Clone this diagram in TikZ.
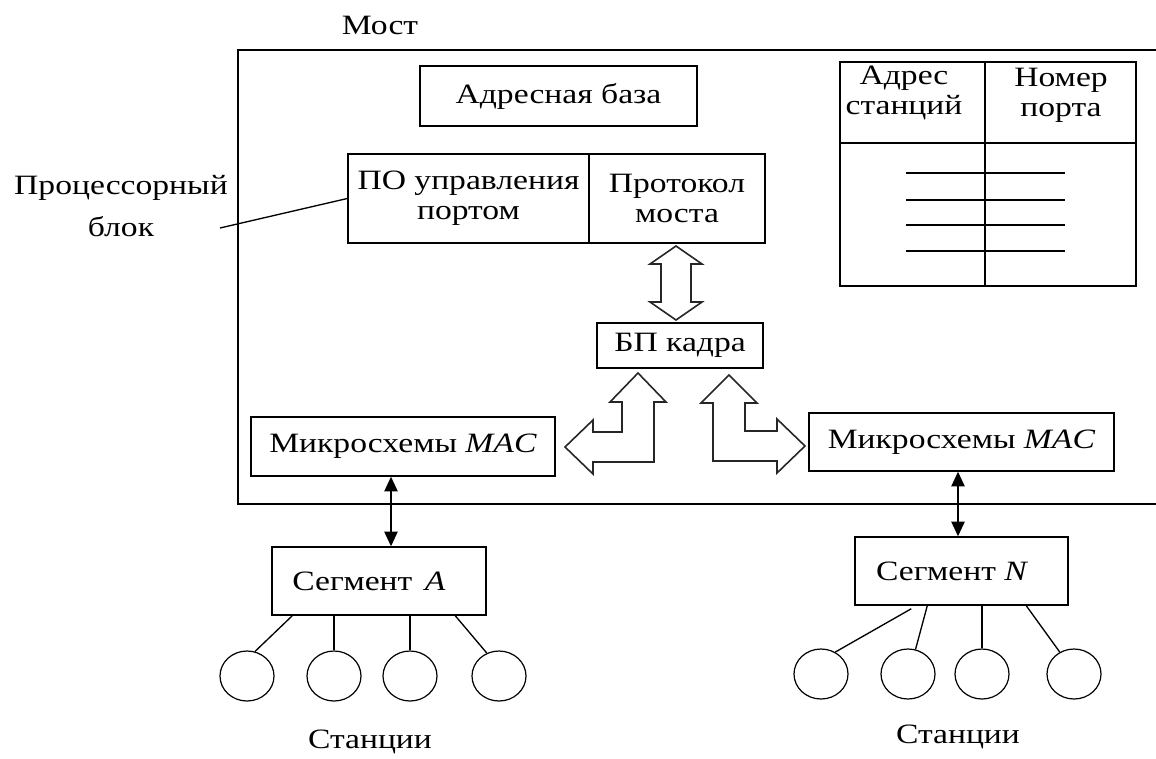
\documentclass[tikz,border=0pt]{standalone}
\usepackage{fontspec}
\setmainfont{Liberation Serif}[FakeStretch=1.2]
\usetikzlibrary{fit,calc,shapes.geometric,arrows.meta}

\tikzset{
  box/.style={draw, line width=1.1pt, inner sep=0pt, align=center},
  sz/.style 2 args={minimum width=#1*0.75pt, minimum height=#2*0.75pt},
  txt/.style={inner sep=0pt, align=center},
  wire/.style={line width=1pt},
  rule/.style={line width=1.1pt},
  station/.style={draw, ellipse, line width=0.9pt, minimum width=40.5pt,
                  minimum height=37.5pt, inner sep=0pt},
  link/.style={line width=1.1pt,
               {Triangle[length=11pt,width=10pt]}-{Triangle[length=11pt,width=10pt]}},
  fat/.style={draw=black!85, line width=1.2pt, fill=white, line join=miter},
}

\begin{document}
\begin{tikzpicture}[x=0.75pt, y=-0.75pt, font=\fontsize{21}{22.5}\selectfont]
\useasboundingbox (0,0) rectangle (1156,758);

% bridge frame, open to the right edge
\node[box, fit={(238,50) (1175,504)}] (bridge) {};
\node[txt] (title) at (380,25) {Мост};

% processor block
\node[box, sz={277}{60}] (addr) at (558.5,96) {Адресная база};
\node[box, sz={241}{89}] (ctl) at (468.5,198.5) {ПО управления\\портом};
\node[box, sz={176}{89}] (proto) at (677,198.5) {Протокол\\моста};
\node[box, sz={166}{45}] (buf) at (680,345.5) {БП кадра};

% MAC chips
\node[box, sz={304}{59}] (macA) at (403,446.5) {Микросхемы \textit{MAC}};
\node[box, sz={305}{58}] (macN) at (961.5,442) {Микросхемы \textit{MAC}};

% segments
\node[box, sz={214}{68}] (segA) at (379,581) {Сегмент\hspace{0.45em}\textit{A}\kern15pt};
\node[box, sz={213}{68}] (segN) at (961.5,571) {Сегмент \textit{N}\kern14pt};

% address table
\node[box, sz={296}{224}] (table) at (988,174) {};
\draw[rule] (985,62) -- (985,286);
\draw[rule] (840,143) -- (1136,143);
\node[txt] (colA) at (904,93) {Адрес\\станций};
\node[txt] (colB) at (1061,95) {Номер\\порта};
\foreach \y in {173,200,225,251}
  \draw[rule] (906,\y) -- (1065,\y);

% processor block label
\node[txt] (cpu) at (121,206) {Процессорный\\[9pt]блок};
\coordinate (leadEnd) at (220,228);
\draw[wire] (leadEnd) -- (ctl.west);

% hollow block arrows
\draw[fat] (676,246) -- (702,264) -- (691,264) -- (691,302) -- (702,302)
  -- (676,320) -- (650,302) -- (661,302) -- (661,264) -- (650,264) -- cycle;
\draw[fat] (638,373) -- (666,402) -- (654,402) -- (654,462) -- (593,462)
  -- (593,474) -- (565,447) -- (593,420) -- (593,432) -- (622,432)
  -- (622,402) -- (610,402) -- cycle;
\draw[fat] (729,375) -- (757,403) -- (745,403) -- (745,431) -- (777,431)
  -- (777,419) -- (805,446) -- (777,473) -- (777,461) -- (713,461)
  -- (713,403) -- (701,403) -- cycle;

% MAC to segment links
\coordinate (xA) at (391,0);
\draw[link] (macA.south -| xA) -- (segA.north -| xA);
\coordinate (xN) at (958,0);
\draw[link] (macN.south -| xN) -- (segN.north -| xN);

% stations of segment A
\foreach \i/\x in {1/247,2/334,3/410,4/499}
  \node[station] (sa\i) at (\x,676) {};
\draw[wire] ($(segA.south west)+(21,0)$) -- (sa1.72);
\draw[wire] (sa2.north |- segA.south) -- (sa2.north);
\draw[wire] (sa3.north |- segA.south) -- (sa3.north);
\draw[wire] ($(segA.south west)+(184,0)$) -- (sa4.118);
\node[txt] (stA) at (370,742) {Станции};

% stations of segment N
\foreach \i/\x in {1/821,2/908,3/982,4/1074}
  \node[station] (sn\i) at (\x,674) {};
\draw[wire] ($(segN.south west)+(57,3)$) -- (sn1.57);
\draw[wire] ($(segN.south west)+(73,0)$) -- (sn2.73);
\draw[wire] (sn3.north |- segN.south) -- (sn3.north);
\draw[wire] ($(segN.south west)+(172,0)$) -- (sn4.123);
\node[txt] (stN) at (958,737) {Станции};
\end{tikzpicture}
\end{document}
